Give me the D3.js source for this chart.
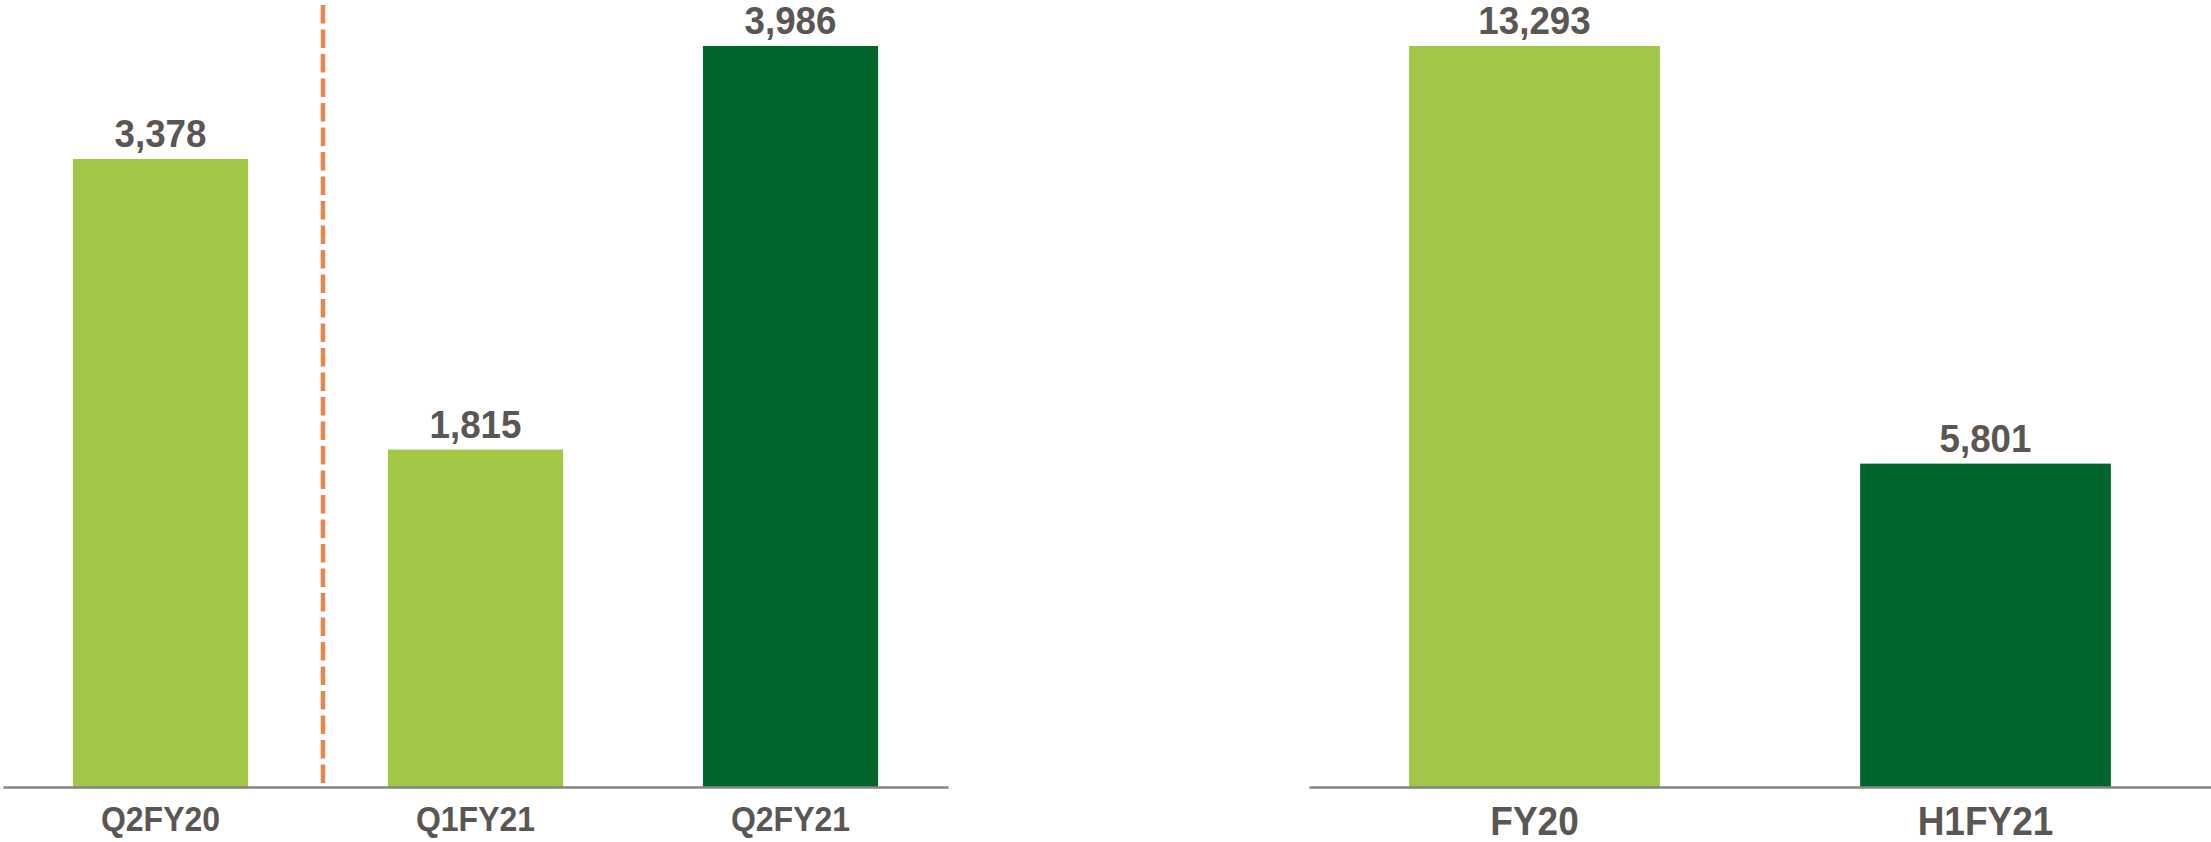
<!DOCTYPE html>
<html>
<head>
<meta charset="utf-8">
<script src="https://cdn.jsdelivr.net/npm/d3@7"></script>
<style>
  body { margin: 0; background: #fff; }
  svg { display: block; }
</style>
</head>
<body>
<div id="chart"></div>
<script>
// left panel: quarterly
const quarterCats = ["Q2FY20", "Q1FY21", "Q2FY21"];
const quarterVals = [3378, 1815, 3986];
const quarterColors = ["#a2c646", "#a2c646", "#00662e"];

// right panel: annual / half-year
const yearCats = ["FY20", "H1FY21"];
const yearVals = [13293, 5801];
const yearColors = ["#a2c646", "#00662e"];

const W = 2211, H = 842;
const baseY = 787;
const textColor = "#5a5653";
const squeeze = 0.93; // reference glyphs are slightly condensed

const svg = d3.select("#chart")
    .append("svg")
    .attr("width", W)
    .attr("height", H);

function panel(cats, vals, colors, x0, x1, topY, labelSize) {
    const x = d3.scaleBand()
        .domain(cats)
        .range([x0, x1])
        .paddingInner(0.444)
        .paddingOuter(0.222);

    const y = d3.scaleLinear()
        .domain([0, d3.max(vals)])
        .range([baseY, topY]);

    const g = svg.append("g");

    g.selectAll("rect")
        .data(cats)
        .join("rect")
        .attr("x", d => x(d))
        .attr("width", x.bandwidth())
        .attr("y", (d, i) => y(vals[i]))
        .attr("height", (d, i) => baseY - y(vals[i]))
        .attr("fill", (d, i) => colors[i]);

    // value labels
    g.selectAll(".val")
        .data(cats)
        .join("text")
        .attr("class", "val")
        .attr("transform", (d, i) =>
            `translate(${x(d) + x.bandwidth() / 2},${y(vals[i]) - 12}) scale(${squeeze},1)`)
        .attr("text-anchor", "middle")
        .attr("font-family", "'Liberation Sans', Arial, sans-serif")
        .attr("font-weight", "bold")
        .attr("font-size", 39.5)
        .attr("fill", textColor)
        .text((d, i) => d3.format(",")(vals[i]));

    // axis
    const axis = g.append("g")
        .attr("transform", `translate(0,${baseY})`)
        .call(d3.axisBottom(x).tickSize(0).tickPadding(20));
    axis.select(".domain")
        .attr("stroke", "#858585")
        .attr("stroke-width", 2.5);
    axis.selectAll("text")
        .attr("font-family", "'Liberation Sans', Arial, sans-serif")
        .attr("font-weight", "bold")
        .attr("font-size", labelSize / squeeze)
        .attr("fill", textColor)
        .attr("dy", "0.71em")
        .attr("transform", `scale(${squeeze},1)`);
    // keep ticks centred after the squeeze
    axis.selectAll(".tick text")
        .attr("x", 0);

    return x;
}

const xl = panel(quarterCats, quarterVals, quarterColors, 3, 948, 46, 32);
panel(yearCats, yearVals, yearColors, 1309, 2211, 46, 37);

// dashed divider between Q2FY20 and Q1FY21
const divX = (xl("Q2FY20") + xl.bandwidth() + xl("Q1FY21")) / 2 + 5;
svg.append("line")
    .attr("x1", divX)
    .attr("x2", divX)
    .attr("y1", 5)
    .attr("y2", baseY)
    .attr("stroke", "#ec8447")
    .attr("stroke-width", 4.5)
    .attr("stroke-dasharray", "18.5,6");
</script>
</body>
</html>
